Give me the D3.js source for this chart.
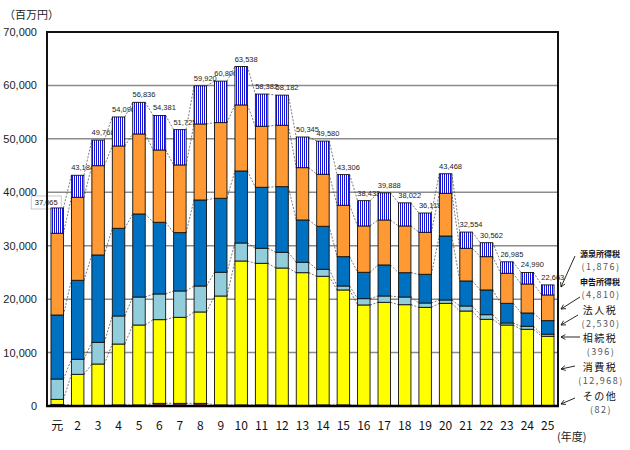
<!DOCTYPE html>
<html><head><meta charset="utf-8">
<script src="https://cdn.jsdelivr.net/npm/d3@7"></script>
<style>body{margin:0;background:#fff} svg{display:block}</style>
</head><body><svg id="c" width="630" height="450"></svg>
<script>
const years = ["元","2","3","4","5","6","7","8","9","10","11","12","13","14","15","16","17","18","19","20","21","22","23","24","25"];
const sonota   = [300,100,100,200,200,500,500,500,200,200,200,100,100,200,200,100,100,100,100,100,100,100,100,100,82];
const shohi    = [950,5830,7760,11400,14960,15660,16100,17100,20390,26940,26510,25730,24850,24080,21520,18810,19310,18860,18370,19120,17680,16130,15060,14260,12968];
const sozoku   = [3800,2810,4060,5250,5240,4810,4930,4860,4440,3370,2810,2940,1950,1310,740,1180,1180,1440,810,620,940,860,380,560,396];
const hojin    = [11980,14790,16350,16410,15540,13420,10920,16100,13850,13480,11420,12280,7920,8050,5490,4940,5810,4550,5370,11980,4680,4630,3680,2490,2530];
const shinkoku = [15300,15530,16710,15410,14980,13530,12670,14230,14160,12360,11420,11500,9790,9730,9620,8670,8420,8750,7860,7990,6120,6230,5620,5430,4810];
const gensen   = [4735,4124,4788,5426,5916,6461,6605,7130,7766,7188,6022,5632,5735,6210,5736,4733,5068,4322,3608,3658,3034,2612,2145,2150,1876];
const totalLabels = ["37,065","43,184","49,768","54,096","56,836","54,381","51,725","59,920","60,806","63,538","58,382","58,182","50,345","49,580","43,306","38,433","39,888","38,022","36,118","43,468","32,554","30,562","26,985","24,990","22,663"];
const yTicks = [0,10000,20000,30000,40000,50000,60000,70000];
const legendNames  = ["源泉所得税","申告所得税","法人税","相続税","消費税","その他"];
const legendValues = ["(1,876)","(4,810)","(2,530)","(396)","(12,968)","(82)"];

const keys = ["sonota","shohi","sozoku","hojin","shinkoku","gensen"];
const colors = {sonota:"#7a2a55", shohi:"#ffff00", sozoku:"#92cddc", hojin:"#0070c0", shinkoku:"#ff9933", gensen:"url(#stripe)"};
const rows = years.map((y,i)=>({year:y, sonota:sonota[i], shohi:shohi[i], sozoku:sozoku[i], hojin:hojin[i], shinkoku:shinkoku[i], gensen:gensen[i]}));

const svg = d3.select("#c");
const L=47, R=558, T=32, B=406;
const x = d3.scaleBand().domain(years).range([L,R]).paddingInner(0.39).paddingOuter(0.195);
const y = d3.scaleLinear().domain([0,70000]).range([B,T]);

const defs = svg.append("defs");
const pat = defs.append("pattern").attr("id","stripe").attr("patternUnits","userSpaceOnUse").attr("width",2).attr("height",4);
pat.append("rect").attr("width",2).attr("height",4).attr("fill","#ffffff");
pat.append("rect").attr("width",1).attr("height",4).attr("fill","#1414d8");

// gridlines
svg.append("g").selectAll("line").data(yTicks.filter(d=>d>0 && d<70000)).join("line")
  .attr("x1",L).attr("x2",R).attr("y1",d=>y(d)).attr("y2",d=>y(d))
  .attr("stroke","#8c8c8c").attr("stroke-width",1.5);

const stack = d3.stack().keys(keys)(rows);

// total labels (drawn beneath bars, as in the reference)
const tops = stack[stack.length-1];
const lab = svg.append("g").attr("font-family","Liberation Sans, Arial, sans-serif").attr("font-size",7.5).attr("fill","#222").attr("text-anchor","middle");
totalLabels.forEach((t,i)=>{
  const cx = x(years[i]) + x.bandwidth()/2;
  const ty = y(tops[i][1]);
  if(i===0){
    const bx = cx - 11;
    lab.append("rect").attr("x",bx-15).attr("y",ty-12).attr("width",30).attr("height",13)
      .attr("fill","#fff").attr("stroke","#bbb").attr("stroke-width",0.8);
    lab.append("text").attr("x",bx).attr("y",ty-2.5).text(t);
  } else {
    lab.append("text").attr("x",cx+5).attr("y",ty-5).text(t);
  }
});

// series lines
const sl = svg.append("g").attr("fill","none").attr("stroke","#444").attr("stroke-width",0.7).attr("stroke-dasharray","2,1.5");
stack.forEach(layer=>{
  for(let i=0;i<layer.length-1;i++){
    sl.append("line")
      .attr("x1",x(years[i])+x.bandwidth()).attr("y1",y(layer[i][1]))
      .attr("x2",x(years[i+1])).attr("y2",y(layer[i+1][1]));
  }
});

// bars
svg.append("g").selectAll("g").data(stack).join("g")
  .attr("fill",d=>colors[d.key])
  .selectAll("rect").data(d=>d).join("rect")
  .attr("x",(d,i)=>x(years[i])).attr("width",x.bandwidth())
  .attr("y",d=>y(d[1])).attr("height",d=>Math.max(0,y(d[0])-y(d[1])))
  .attr("stroke","#111").attr("stroke-width",0.9);

// plot frame
svg.append("rect").attr("x",L).attr("y",T).attr("width",R-L).attr("height",B-T)
  .attr("fill","none").attr("stroke","#111").attr("stroke-width",2);
svg.append("line").attr("x1",L-1).attr("x2",R+1).attr("y1",B).attr("y2",B).attr("stroke","#000").attr("stroke-width",2.5);

// y axis labels
svg.append("g").attr("font-family","Liberation Sans, Arial, sans-serif").attr("font-size",11).attr("fill","#222").attr("text-anchor","end")
  .selectAll("text").data(yTicks).join("text")
  .attr("x",37).attr("y",d=>y(d)+4).text(d=>d3.format(",")(d));

// x axis labels
svg.append("g").attr("font-family","Noto Sans CJK JP, sans-serif").attr("font-size",12).attr("fill","#111").attr("text-anchor","middle")
  .selectAll("text").data(years).join("text")
  .attr("x",d=>x(d)+x.bandwidth()/2).attr("y",430).text(d=>d);

svg.append("text").attr("x",4).attr("y",19).attr("font-family","Noto Sans CJK JP, sans-serif").attr("font-size",11).attr("fill","#222").text("（百万円）");
svg.append("text").attr("x",557).attr("y",441).attr("font-family","Noto Sans CJK JP, sans-serif").attr("font-size",11).attr("fill","#222").text("(年度)");

// legend annotations
const nameY = [257,285,314,342,371,400];
const valY  = [270,298,327,355,384,413];
const nameSize = [8,8,10,10,10,10];
const lg = svg.append("g").attr("text-anchor","middle").attr("font-family","Noto Sans CJK JP, sans-serif");
legendNames.forEach((n,i)=>{
  lg.append("text").attr("x",600).attr("y",nameY[i]).attr("font-size",nameSize[i]).attr("font-weight",i<2?"bold":"normal")
    .attr("letter-spacing",i<2?0:1.5).attr("fill","#111").text(n);
  lg.append("text").attr("x",601).attr("y",valY[i]).attr("font-size",9).attr("letter-spacing",1.5).attr("fill","#555").text(legendValues[i]);
});
const arrows = [[575,256,561,287],[580,297,561,309],[578,315,561,325],[580,337,561,337],[575,366,561,369],[575,398,561,404]];
const ag = svg.append("g").attr("stroke","#111").attr("stroke-width",0.9).attr("fill","none");
arrows.forEach(a=>{
  const [x1,y1,x2,y2]=a;
  ag.append("line").attr("x1",x1).attr("y1",y1).attr("x2",x2).attr("y2",y2);
  const ang = Math.atan2(y1-y2,x1-x2), h=5;
  const p = [[x2+h*Math.cos(ang+0.5), y2+h*Math.sin(ang+0.5)],[x2,y2],[x2+h*Math.cos(ang-0.5), y2+h*Math.sin(ang-0.5)]];
  ag.append("path").attr("d",d3.line()(p));
});
</script></body></html>
